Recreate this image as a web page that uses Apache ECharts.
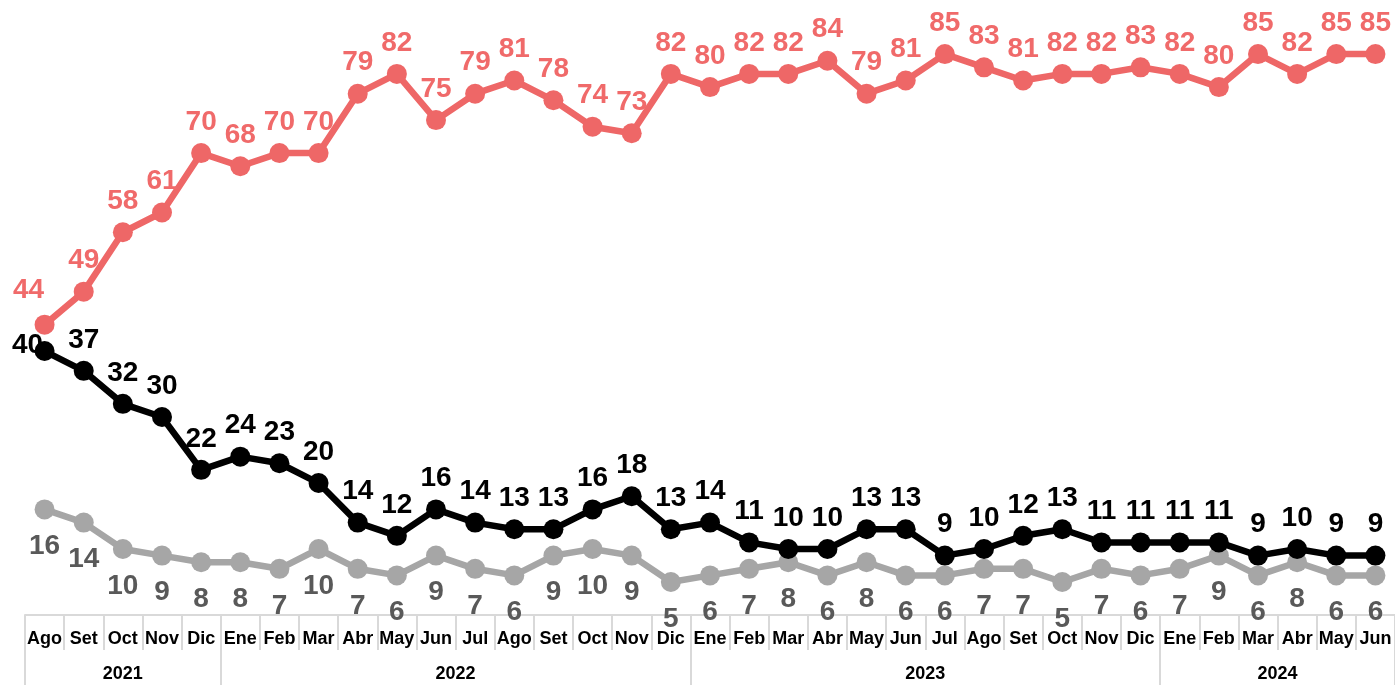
<!DOCTYPE html>
<html>
<head>
<meta charset="utf-8">
<script src="https://cdn.jsdelivr.net/npm/echarts@6/dist/echarts.min.js"></script>
<style>
  html, body { margin: 0; padding: 0; background: #fff; }
  #chart { width: 1395px; height: 685px; }
</style>
</head>
<body>
<div id="chart"></div>
<script>
const months = ['Ago','Set','Oct','Nov','Dic',
  'Ene','Feb','Mar','Abr','May','Jun','Jul','Ago','Set','Oct','Nov','Dic',
  'Ene','Feb','Mar','Abr','May','Jun','Jul','Ago','Set','Oct','Nov','Dic',
  'Ene','Feb','Mar','Abr','May','Jun'];
const years = ['2021', '2022', '2023', '2024'];
const yearCenters = [2, 10.5, 22.5, 31.5];
const yearBounds = [-0.5, 4.5, 16.5, 28.5, 34.5];

const redValues = [44,49,58,61,70, 68,70,70,79,82,75,79,81,78,74,73,82,
  80,82,82,84,79,81,85,83,81,82,82,83, 82,80,85,82,85,85];
const blackValues = [40,37,32,30,22, 24,23,20,14,12,16,14,13,13,16,18,13,
  14,11,10,10,13,13,9,10,12,13,11,11, 11,11,9,10,9,9];
const grayValues = [16,14,10,9,8, 8,7,10,7,6,9,7,6,9,10,9,5,
  6,7,8,6,8,6,6,7,7,5,7,6, 7,9,6,8,6,6];

const font = 'Liberation Sans, Arial, sans-serif';
const chart = echarts.init(document.getElementById('chart'));

// first point labels are nudged left like in the original
function withFirstOffset(values, offset) {
  return values.map(function (v, i) {
    return i === 0 ? { value: v, label: { offset: offset } } : v;
  });
}

function lineSeries(name, data, color, labelColor, pos, dist) {
  return {
    name: name,
    type: 'line',
    data: data,
    symbol: 'circle',
    symbolSize: 20,
    lineStyle: { width: 6.5, color: color },
    itemStyle: { color: color },
    label: {
      show: true,
      position: pos,
      distance: dist,
      color: labelColor,
      fontFamily: font,
      fontWeight: 'bold',
      fontSize: 28
    }
  };
}

chart.setOption({
  animation: false,
  grid: { left: 25, right: 0, top: 0, bottom: 70 },
  xAxis: [
    {
      type: 'category',
      data: months,
      axisLine: { lineStyle: { color: '#d9d9d9', width: 2 } },
      axisTick: { show: true, interval: 0, length: 35, lineStyle: { color: '#d9d9d9', width: 2 } },
      axisLabel: { interval: 0, margin: 15, color: '#000', fontFamily: font, fontWeight: 'bold', fontSize: 18 }
    },
    {
      type: 'value',
      position: 'bottom',
      min: -0.5,
      max: 34.5,
      splitLine: { show: false },
      axisLine: { show: false },
      axisTick: { show: true, length: 70, customValues: yearBounds, lineStyle: { color: '#d9d9d9', width: 2 } },
      axisLabel: {
        customValues: yearCenters,
        margin: 50,
        color: '#000', fontFamily: font, fontWeight: 'bold', fontSize: 18,
        formatter: function (v) {
          const i = yearCenters.indexOf(v);
          return i >= 0 ? years[i] : '';
        }
      }
    }
  ],
  yAxis: {
    type: 'value',
    min: 0,
    max: 93.2,
    show: false,
    splitLine: { show: false }
  },
  series: [
    lineSeries('Gris', grayValues, '#a6a6a6', '#595959', 'bottom', 13),
    lineSeries('Negro', withFirstOffset(blackValues, [-17, 25]), '#000000', '#000000', 'top', 7),
    lineSeries('Rojo', withFirstOffset(redValues, [-16, -3]), '#ee6767', '#f06a6a', 'top', 7)
  ]
});
</script>
</body>
</html>
